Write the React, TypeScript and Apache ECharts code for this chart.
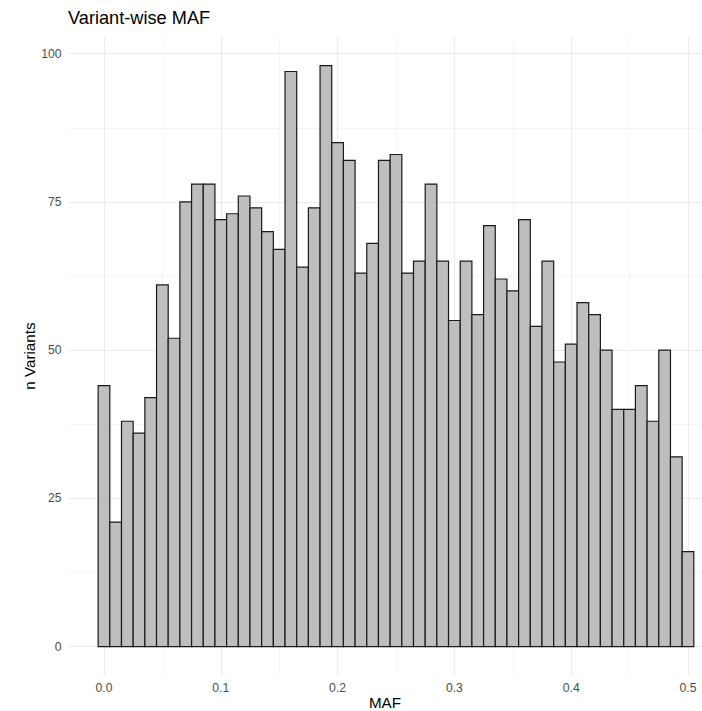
import React, { useEffect, useRef } from "react";
import * as echarts from "echarts";

const binCenters = [
  0.0, 0.01, 0.02, 0.03, 0.04, 0.05, 0.06, 0.07, 0.08, 0.09,
  0.1, 0.11, 0.12, 0.13, 0.14, 0.15, 0.16, 0.17, 0.18, 0.19,
  0.2, 0.21, 0.22, 0.23, 0.24, 0.25, 0.26, 0.27, 0.28, 0.29,
  0.3, 0.31, 0.32, 0.33, 0.34, 0.35, 0.36, 0.37, 0.38, 0.39,
  0.4, 0.41, 0.42, 0.43, 0.44, 0.45, 0.46, 0.47, 0.48, 0.49,
  0.5,
];
const counts = [
  44, 21, 38, 36, 42, 61, 52, 75, 78, 78,
  72, 73, 76, 74, 70, 67, 97, 64, 74, 98,
  85, 82, 63, 68, 82, 83, 63, 65, 78, 65,
  55, 65, 56, 71, 62, 60, 72, 54, 65, 48,
  51, 58, 56, 50, 40, 40, 44, 38, 50, 32,
  16,
];
const binWidth = 0.01;
const xMajorTicks = [0, 0.1, 0.2, 0.3, 0.4, 0.5];
const xMinorTicks = [0.05, 0.15, 0.25, 0.35, 0.45];
const yMajorTicks = [0, 25, 50, 75, 100];
const yMinorTicks = [12.5, 37.5, 62.5, 87.5];

const FONT = "'Liberation Sans', Arial, Helvetica, sans-serif";

export default function App() {
  const ref = useRef<HTMLDivElement>(null);
  useEffect(() => {
    if (!ref.current) return;
    const chart = echarts.init(ref.current, null, { renderer: "svg" });
    const xMin = -0.0308;
    const xMax = 0.512;
    const yMin = -4.9;
    const yMax = 102.9;
    const data = binCenters.map((c, i) => [c, counts[i]]);
    const majorLine = { color: "#ebebeb", width: 1.1 };
    const minorLine = { color: "#f0f0f0", width: 0.6 };
    chart.setOption({
      animation: false,
      backgroundColor: "#ffffff",
      title: {
        text: "Variant-wise MAF",
        left: 68,
        top: 8.5,
        padding: 0,
        textStyle: { fontFamily: FONT, fontSize: 18.2, fontWeight: "normal", color: "#000", lineHeight: 18.2 },
      },
      grid: {
        left: 68,
        right: 0,
        top: 36.5,
        bottom: 35.4,
        containLabel: false,
        outerBoundsMode: "none",
      },
      xAxis: [
        {
          type: "value",
          min: xMin,
          max: xMax,
          axisLine: { show: false },
          axisTick: { show: false, customValues: xMajorTicks },
          axisLabel: {
            customValues: xMajorTicks,
            formatter: (v: number) => v.toFixed(1),
            color: "#4d4d4d",
            fontSize: 12.2,
            fontFamily: FONT,
            margin: 6,
          },
          splitLine: { show: true, lineStyle: majorLine },
          name: "MAF",
          nameLocation: "middle",
          nameGap: 27,
          nameMoveOverlap: false,
          nameTextStyle: { fontFamily: FONT, fontSize: 15.2, color: "#000", verticalAlign: "middle", lineHeight: 15.2 },
        },
        {
          type: "value",
          min: xMin,
          max: xMax,
          position: "bottom",
          axisLine: { show: false },
          axisTick: { show: false, customValues: xMinorTicks },
          axisLabel: { show: false, customValues: xMinorTicks },
          splitLine: { show: true, lineStyle: minorLine },
        },
      ],
      yAxis: [
        {
          type: "value",
          min: yMin,
          max: yMax,
          axisLine: { show: false },
          axisTick: { show: false, customValues: yMajorTicks },
          axisLabel: {
            customValues: yMajorTicks,
            color: "#4d4d4d",
            fontSize: 12.2,
            fontFamily: FONT,
            margin: 6.5,
          },
          splitLine: { show: true, lineStyle: majorLine },
          name: "n Variants",
          nameLocation: "middle",
          nameRotate: 90,
          nameGap: 31,
          nameMoveOverlap: false,
          nameTextStyle: { fontFamily: FONT, fontSize: 15.2, color: "#000" },
        },
        {
          type: "value",
          min: yMin,
          max: yMax,
          position: "left",
          axisLine: { show: false },
          axisTick: { show: false, customValues: yMinorTicks },
          axisLabel: { show: false, customValues: yMinorTicks },
          splitLine: { show: true, lineStyle: minorLine },
        },
      ],
      series: [
        {
          type: "custom",
          xAxisIndex: 0,
          yAxisIndex: 0,
          data,
          encode: { x: 0, y: 1 },
          renderItem: (params: any, api: any) => {
            const x = api.value(0);
            const y = api.value(1);
            const p0 = api.coord([x - binWidth / 2, y]);
            const p1 = api.coord([x + binWidth / 2, 0]);
            return {
              type: "rect",
              shape: { x: p0[0], y: p0[1], width: p1[0] - p0[0], height: p1[1] - p0[1] },
              style: { fill: "#bebebe", stroke: "#1a1a1a", lineWidth: 1.2 },
            };
          },
        },
      ],
    });
    return () => chart.dispose();
  }, []);
  return (
    <div
      ref={ref}
      style={{ position: "fixed", left: 0, top: 0, width: 702, height: 711, background: "#fff" }}
    />
  );
}
